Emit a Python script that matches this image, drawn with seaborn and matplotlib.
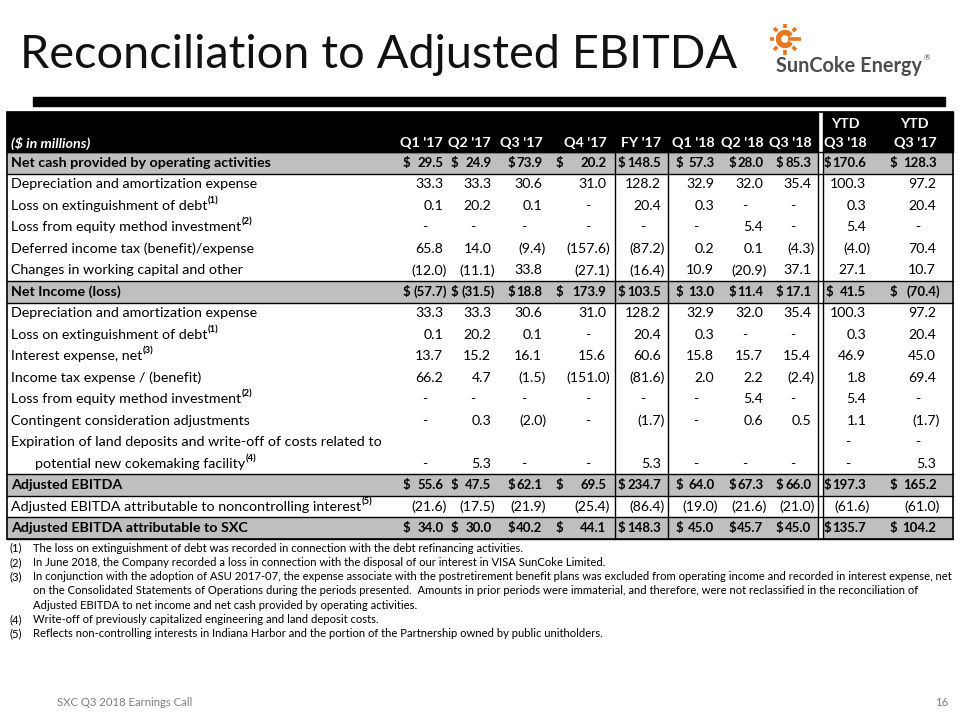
import numpy as np
import matplotlib
matplotlib.use("Agg")
import matplotlib.pyplot as plt
import seaborn as sns
from matplotlib.colors import ListedColormap
from matplotlib.patches import Rectangle, Wedge

sns.set_theme(style="white")
BODY_FONT = ["Lato", "DejaVu Sans"]
NOTE_FONT = ["Liberation Sans Narrow", "Lato", "DejaVu Sans"]
plt.rcParams["font.family"] = BODY_FONT

NAN = float("nan")

# ---------------- data ----------------
title = "Reconciliation to Adjusted EBITDA"
units_label = "($ in millions)"
col_top = ["", "", "", "", "", "", "", "", "YTD", "YTD"]
col_bottom = ["Q1 '17", "Q2 '17", "Q3 '17", "Q4 '17", "FY '17",
              "Q1 '18", "Q2 '18", "Q3 '18", "Q3 '18", "Q3 '17"]

row_labels = [
    "Net cash provided by operating activities",
    "Depreciation and amortization expense",
    "Loss on extinguishment of debt",
    "Loss from equity method investment",
    "Deferred income tax (benefit)/expense",
    "Changes in working capital and other",
    "Net Income (loss)",
    "Depreciation and amortization expense",
    "Loss on extinguishment of debt",
    "Interest expense, net",
    "Income tax expense / (benefit)",
    "Loss from equity method investment",
    "Contingent consideration adjustments",
    "Expiration of land deposits and write-off of costs related to",
    "potential new cokemaking facility",
    "Adjusted EBITDA",
    "Adjusted EBITDA attributable to noncontrolling interest",
    "Adjusted EBITDA attributable to SXC",
]
row_notes = ["", "", "(1)", "(2)", "", "", "", "", "(1)", "(3)", "", "(2)", "",
             "", "(4)", "", "(5)", ""]
row_total = [1, 0, 0, 0, 0, 0, 1, 0, 0, 0, 0, 0, 0, 0, 0, 1, 0, 1]
row_indent = [0] * 14 + [1] + [0] * 3

# 0 = "-" (nil), NAN = blank cell
q1_17 = [29.5, 33.3, 0.1, 0, 65.8, -12.0, -57.7, 33.3, 0.1, 13.7, 66.2, 0, 0, NAN, 0, 55.6, -21.6, 34.0]
q2_17 = [24.9, 33.3, 20.2, 0, 14.0, -11.1, -31.5, 33.3, 20.2, 15.2, 4.7, 0, 0.3, NAN, 5.3, 47.5, -17.5, 30.0]
q3_17 = [73.9, 30.6, 0.1, 0, -9.4, 33.8, 18.8, 30.6, 0.1, 16.1, -1.5, 0, -2.0, NAN, 0, 62.1, -21.9, 40.2]
q4_17 = [20.2, 31.0, 0, 0, -157.6, -27.1, 173.9, 31.0, 0, 15.6, -151.0, 0, 0, NAN, 0, 69.5, -25.4, 44.1]
fy_17 = [148.5, 128.2, 20.4, 0, -87.2, -16.4, 103.5, 128.2, 20.4, 60.6, -81.6, 0, -1.7, NAN, 5.3, 234.7, -86.4, 148.3]
q1_18 = [57.3, 32.9, 0.3, 0, 0.2, 10.9, 13.0, 32.9, 0.3, 15.8, 2.0, 0, 0, NAN, 0, 64.0, -19.0, 45.0]
q2_18 = [28.0, 32.0, 0, 5.4, 0.1, -20.9, 11.4, 32.0, 0, 15.7, 2.2, 5.4, 0.6, NAN, 0, 67.3, -21.6, 45.7]
q3_18 = [85.3, 35.4, 0, 0, -4.3, 37.1, 17.1, 35.4, 0, 15.4, -2.4, 0, 0.5, NAN, 0, 66.0, -21.0, 45.0]
ytd_q3_18 = [170.6, 100.3, 0.3, 5.4, -4.0, 27.1, 41.5, 100.3, 0.3, 46.9, 1.8, 5.4, 1.1, 0, 0, 197.3, -61.6, 135.7]
ytd_q3_17 = [128.3, 97.2, 20.4, 0, 70.4, 10.7, -70.4, 97.2, 20.4, 45.0, 69.4, 0, -1.7, 0, 5.3, 165.2, -61.0, 104.2]
columns = [q1_17, q2_17, q3_17, q4_17, fy_17, q1_18, q2_18, q3_18, ytd_q3_18, ytd_q3_17]

footnotes = [
    ("(1)", "The loss on extinguishment of debt was recorded in connection with the debt refinancing activities."),
    ("(2)", "In June 2018, the Company recorded a loss in connection with the disposal of our interest in VISA SunCoke Limited."),
    ("(3)", "In conjunction with the adoption of ASU 2017-07, the expense associate with the postretirement benefit plans was excluded from operating income and recorded in interest expense, net"),
    ("", "on the Consolidated Statements of Operations during the periods presented.  Amounts in prior periods were immaterial, and therefore, were not reclassified in the reconciliation of"),
    ("", "Adjusted EBITDA to net income and net cash provided by operating activities."),
    ("(4)", "Write-off of previously capitalized engineering and land deposit costs."),
    ("(5)", "Reflects non-controlling interests in Indiana Harbor and the portion of the Partnership owned by public unitholders."),
]
footer_left = "SXC Q3 2018 Earnings Call"
footer_right = "16"
logo_text = "SunCoke Energy"

# ---------------- layout (pixels) ----------------
W, H = 960, 720
TBL_L, TBL_R = 7, 953
HDR_T = 112
ROW0, ROW_H = 163.0, 21.47
n_rows = len(row_labels)
body_top = ROW0 - ROW_H / 2
body_bot = ROW0 + (n_rows - 0.5) * ROW_H
col_right = [447, 495, 546, 610, 665, 718, 767, 815, 870, 940]
dollar_x = [403, 451, 509, 556, 618, 676, 729, 776, 826, 890]
vlines = [615, 668]
dbl = (818, 823)
GREY = "#BFBFBF"

fig = plt.figure(figsize=(W / 100, H / 100), dpi=100)
fig.patch.set_facecolor("white")

# band shading of the table body via seaborn heatmap
axb = fig.add_axes([TBL_L / W, 1 - body_bot / H, (TBL_R - TBL_L) / W, (body_bot - body_top) / H])
band = np.array(row_total, dtype=float).reshape(-1, 1)
sns.heatmap(band, ax=axb, cmap=ListedColormap(["white", GREY]), vmin=0, vmax=1,
            cbar=False, xticklabels=False, yticklabels=False)
axb.set_xlabel(""); axb.set_ylabel("")

ax = fig.add_axes([0, 0, 1, 1])
ax.set_zorder(3)
ax.patch.set_alpha(0)
ax.set_xlim(0, W)
ax.set_ylim(H, 0)
ax.axis("off")
renderer = fig.canvas.get_renderer()


def width(s, size, **kw):
    t = ax.text(0, 0, s, fontsize=size, **kw)
    w = t.get_window_extent(renderer).width
    t.remove()
    return w


def fit(s, target, **kw):
    return 10 * target / width(s, 10, **kw)


def put(x, y, s, **kw):
    return ax.text(x, y, s, **kw)


# title
ts = fit(title, 718)
put(20, 68, title, fontsize=ts, color="#111111", va="baseline")

# logo
cx, cy = 785, 39
ax.add_patch(Wedge((cx, cy), 8.5, 35, 325, width=4, color="#E87722", zorder=5))
for ang in [45, 90, 135, 180, 225, 270, 315]:
    a = np.deg2rad(ang)
    ax.plot([cx + 11 * np.cos(a), cx + 15.5 * np.cos(a)],
            [cy - 11 * np.sin(a), cy - 15.5 * np.sin(a)],
            color="#E87722", lw=2.6, solid_capstyle="butt", zorder=5)
ax.plot([cx + 3, cx + 15.5], [cy, cy], color="#E87722", lw=2.6, solid_capstyle="butt", zorder=5)
ls = fit(logo_text, 146, fontweight="bold")
lt = put(776, 72, logo_text, fontsize=ls, fontweight="bold", color="#4D4D4D", va="baseline")
lx = lt.get_window_extent(renderer).x1
put(lx + 2, 60, "®", fontsize=ls * 0.4, color="#4D4D4D", va="baseline")

# title bar
ax.add_patch(Rectangle((33, 97), 945 - 33, 9, color="black", zorder=4))

# header
ax.add_patch(Rectangle((TBL_L, HDR_T), TBL_R - TBL_L, body_top - HDR_T, color="black", zorder=1))

bs = fit(row_labels[0], 260, fontweight="bold")          # label size
ns = fit("(157.6)", 44)                                  # regular numbers
nbs = ns * 0.94                                          # bold numbers
paren_w = width(")", ns)
paren_wb = width(")", nbs, fontweight="bold")
put(11, 143, units_label, fontsize=bs, fontweight="bold", style="italic", color="white", va="center")
for j, (top, bot) in enumerate(zip(col_top, col_bottom)):
    xr = col_right[j] - paren_w
    hb = put(xr, 143, bot, fontsize=bs, fontweight="bold", color="white", ha="right", va="center")
    e = hb.get_window_extent(renderer)
    if top:
        put((e.x0 + e.x1) / 2, 124, top, fontsize=bs, fontweight="bold", color="white",
            ha="center", va="center")


def fmt(v):
    if np.isnan(v):
        return None
    if v == 0:
        return "-"
    if v < 0:
        return f"({abs(v):.1f})"
    return f"{v:.1f}"


for i, lab in enumerate(row_labels):
    y = ROW0 + i * ROW_H
    bold = bool(row_total[i])
    wt = "bold" if bold else "normal"
    size = nbs if bold else ns
    pw = paren_wb if bold else paren_w
    x0 = 11 + (24 if row_indent[i] else 0)
    t = put(x0, y, lab, fontsize=bs, fontweight=wt, color="black", va="center")
    if row_notes[i]:
        e = t.get_window_extent(renderer)
        put(e.x1 + 0.5, y - 5, row_notes[i], fontsize=bs * 0.66, fontweight="bold",
            color="black", va="center")
    for j, col in enumerate(columns):
        s = fmt(col[i])
        if s is None:
            continue
        if s == "-":
            xr = col_right[j] - 20
        elif s.startswith("("):
            xr = col_right[j]
        else:
            xr = col_right[j] - pw
        nt = put(xr, y, s, fontsize=size, fontweight=wt, color="black", ha="right", va="center")
        if bold:
            left = nt.get_window_extent(renderer).x0
            dw = width("$", size, fontweight=wt)
            dx = min(dollar_x[j], left - dw - 1.0)
            put(dx, y, "$", fontsize=size, fontweight=wt, color="black", ha="left", va="center")

# grid lines
for i, tot in enumerate(row_total):
    if tot:
        y = ROW0 + i * ROW_H
        for yy in (y - ROW_H / 2, y + ROW_H / 2):
            ax.plot([TBL_L, TBL_R], [yy, yy], color="black", lw=1.0, zorder=6)
for x in vlines:
    ax.plot([x, x], [HDR_T, body_bot], color="black", lw=1.0, zorder=6)
ax.add_patch(Rectangle((dbl[0], HDR_T - 1), dbl[1] - dbl[0], body_bot - HDR_T + 2,
                       facecolor="white", edgecolor="none", zorder=5))
for x in dbl:
    ax.plot([x, x], [HDR_T, body_bot], color="black", lw=1.0, zorder=6)
ax.add_patch(Rectangle((TBL_L, HDR_T), TBL_R - TBL_L, body_bot - HDR_T,
                       fill=False, edgecolor="black", lw=1.2, zorder=6))

# footnotes
fs = fit(footnotes[2][1], 915, family=NOTE_FONT)
for k, (num, txt) in enumerate(footnotes):
    y = 548 + k * 14.3
    if num:
        put(10, y, num, fontsize=fs, family=NOTE_FONT, color="black", va="center")
    put(33, y, txt, fontsize=fs, family=NOTE_FONT, color="black", va="center")

# footer
ffs = fit(footer_left, 136, family=NOTE_FONT)
put(57, 703, footer_left, fontsize=ffs, family=NOTE_FONT, color="#7F7F7F", va="center")
put(948, 703, footer_right, fontsize=ffs, family=NOTE_FONT, color="#7F7F7F", va="center", ha="right")

fig.savefig("out.png", dpi=100, facecolor="white")
